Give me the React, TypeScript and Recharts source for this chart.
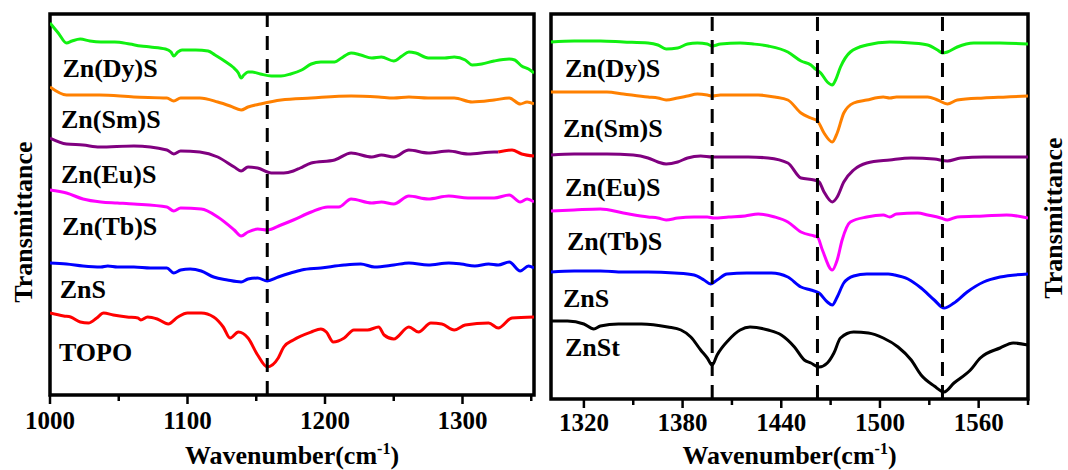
import {
  LineChart,
  Line,
  XAxis,
  YAxis,
  ReferenceLine,
  ReferenceArea,
  ReferenceDot,
} from "recharts";

const SERIF = "Liberation Serif";

// ---- left panel (1000-1352 cm-1), [wavenumber, offset transmittance]
const dyLeft = [
  [1000, 370], [1006, 360], [1012, 350], [1016, 352], [1022, 354], [1029, 352], [1037, 351],
  [1047, 351], [1058, 349], [1066, 347], [1073, 346], [1084, 344], [1088, 341], [1090, 337],
  [1093, 341], [1096, 343], [1106, 343], [1115, 342], [1120, 338], [1128, 331], [1133, 326],
  [1137, 320], [1139, 315], [1141, 318], [1144, 321], [1147, 321], [1153, 319], [1161, 317],
  [1168, 317], [1175, 319], [1183, 323], [1190, 329], [1197, 331], [1207, 331], [1212, 335],
  [1219, 340], [1226, 338], [1234, 335], [1241, 336], [1250, 332], [1256, 337], [1261, 341],
  [1266, 340], [1275, 335], [1287, 335], [1294, 336], [1302, 333], [1307, 328], [1314, 329],
  [1323, 332], [1334, 334], [1338, 333], [1343, 327], [1348, 324], [1352, 320],
];
const smLeft = [
  [1000, 306], [1012, 298], [1022, 298], [1036, 298], [1061, 296], [1085, 295], [1090, 292],
  [1095, 295], [1109, 295], [1122, 291], [1131, 287], [1139, 283], [1144, 286], [1153, 289],
  [1168, 293], [1190, 295], [1219, 297], [1239, 296], [1250, 295], [1261, 296], [1275, 295],
  [1294, 295], [1307, 291], [1323, 293], [1334, 295], [1342, 289], [1347, 291], [1352, 289],
];
const euLeft = [
  [1000, 255], [1012, 249], [1024, 248], [1036, 246], [1061, 247], [1085, 243], [1090, 239],
  [1095, 242], [1109, 241], [1122, 236], [1134, 226], [1139, 222], [1144, 226], [1151, 225],
  [1161, 220], [1170, 220], [1177, 222], [1182, 225], [1190, 230], [1207, 233], [1219, 240],
  [1234, 236], [1241, 238], [1250, 236], [1261, 243], [1275, 240], [1290, 242], [1304, 239],
  [1323, 241], [1326, 241],
];
const euTail = [[1326, 241], [1336, 243], [1343, 239], [1352, 237]];
const tbLeft = [
  [1000, 203], [1012, 200], [1024, 194], [1037, 191], [1049, 190], [1061, 189], [1085, 186],
  [1090, 182], [1095, 185], [1110, 184], [1122, 176], [1134, 163], [1139, 157], [1144, 161],
  [1151, 164], [1158, 163], [1168, 168], [1177, 173], [1190, 181], [1202, 186], [1210, 186],
  [1219, 194], [1234, 190], [1241, 191], [1250, 189], [1261, 197], [1275, 194], [1290, 197],
  [1304, 195], [1323, 195], [1334, 198], [1342, 191], [1347, 194], [1352, 191],
];
const znsLeft = [
  [1000, 130], [1012, 129], [1024, 127], [1037, 126], [1042, 127], [1049, 126], [1061, 126],
  [1073, 125], [1085, 125], [1090, 120], [1095, 123], [1102, 124], [1110, 122], [1119, 116],
  [1129, 113], [1139, 111], [1144, 114], [1151, 115], [1158, 112], [1166, 116], [1175, 120],
  [1183, 123], [1197, 125], [1214, 128], [1226, 129], [1236, 126], [1250, 128], [1261, 130],
  [1275, 128], [1290, 130], [1299, 129], [1309, 127], [1319, 129], [1326, 128], [1334, 131],
  [1342, 122], [1348, 127], [1352, 125],
];
const topo = [
  [1000, 80], [1010, 77], [1015, 76], [1022, 71], [1028, 70], [1034, 75], [1039, 80], [1046, 78],
  [1056, 76], [1064, 75], [1066, 73], [1071, 76], [1078, 74], [1086, 69], [1093, 76], [1100, 80],
  [1110, 80], [1119, 76], [1126, 66], [1131, 55], [1137, 61], [1144, 55], [1151, 38], [1158, 26],
  [1166, 35], [1170, 46], [1177, 53], [1190, 61], [1197, 64], [1201, 61], [1206, 51], [1214, 55],
  [1221, 63], [1231, 63], [1239, 66], [1243, 58], [1250, 54], [1261, 66], [1268, 61], [1277, 70],
  [1285, 69], [1294, 63], [1302, 68], [1319, 70], [1326, 65], [1336, 75], [1352, 76],
];

// ---- right panel (1300-1590 cm-1)
const dyRight = [
  [1300, 356], [1314, 357], [1330, 357], [1344, 356], [1359, 355], [1365, 353], [1370, 349],
  [1377, 350], [1383, 354], [1389, 355], [1395, 354], [1398, 352], [1403, 354], [1415, 355],
  [1423, 354], [1432, 352], [1444, 346], [1452, 337], [1458, 333], [1460, 330], [1464, 325],
  [1468, 316], [1471, 313], [1473, 318], [1476, 331], [1482, 346], [1492, 353], [1506, 356],
  [1519, 355], [1529, 353], [1535, 348], [1538, 345], [1541, 346], [1547, 351], [1557, 355],
  [1573, 355], [1590, 354],
];
const smRight = [
  [1300, 306], [1314, 306], [1334, 306], [1344, 304], [1359, 301], [1365, 300], [1370, 298],
  [1377, 300], [1383, 302], [1389, 304], [1395, 303], [1398, 302], [1403, 303], [1415, 303],
  [1426, 303], [1436, 301], [1444, 298], [1452, 285], [1458, 280], [1462, 277], [1466, 265],
  [1471, 256], [1474, 265], [1478, 285], [1484, 295], [1492, 298], [1502, 301], [1506, 300],
  [1510, 301], [1529, 301], [1535, 298], [1541, 294], [1547, 298], [1563, 300], [1577, 301],
  [1590, 302],
];
const euRight = [
  [1300, 243], [1314, 244], [1334, 244], [1350, 243], [1359, 240], [1365, 236], [1370, 234],
  [1377, 236], [1383, 240], [1391, 242], [1398, 241], [1408, 241], [1420, 241], [1432, 240],
  [1444, 235], [1452, 220], [1460, 218], [1463, 216], [1466, 206], [1471, 196], [1474, 201],
  [1478, 216], [1484, 228], [1492, 235], [1506, 238], [1519, 240], [1533, 239], [1541, 237],
  [1549, 240], [1563, 241], [1590, 241],
];
const tbRight = [
  [1300, 187], [1314, 188], [1330, 189], [1344, 185], [1359, 181], [1365, 180], [1370, 178],
  [1377, 180], [1387, 181], [1395, 181], [1399, 180], [1408, 181], [1418, 182], [1426, 184],
  [1436, 181], [1444, 176], [1452, 166], [1460, 162], [1462, 161], [1465, 148], [1471, 128],
  [1474, 138], [1477, 158], [1482, 176], [1492, 181], [1502, 183], [1506, 181], [1510, 184],
  [1523, 185], [1529, 183], [1537, 180], [1541, 178], [1547, 181], [1563, 182], [1577, 183],
  [1590, 180],
];
const znsRight = [
  [1300, 126], [1314, 127], [1330, 127], [1344, 126], [1359, 126], [1375, 125], [1387, 123],
  [1393, 118], [1397, 114], [1401, 118], [1407, 124], [1419, 125], [1434, 125], [1444, 121],
  [1452, 111], [1458, 108], [1463, 105], [1468, 96], [1471, 93], [1474, 101], [1478, 115],
  [1484, 122], [1492, 124], [1505, 124], [1509, 123], [1517, 119], [1525, 110], [1533, 98],
  [1539, 90], [1545, 95], [1553, 106], [1563, 116], [1573, 121], [1590, 124],
];
const znstRight = [
  [1300, 77], [1310, 77], [1320, 74], [1326, 69], [1330, 72], [1341, 74], [1355, 74], [1371, 71],
  [1379, 68], [1385, 61], [1391, 48], [1395, 40], [1398, 33], [1401, 43], [1408, 58], [1415, 68],
  [1421, 71], [1432, 68], [1440, 63], [1448, 51], [1454, 38], [1458, 35], [1463, 31], [1468, 35],
  [1472, 45], [1476, 60], [1484, 66], [1493, 65], [1502, 60], [1511, 51], [1519, 38], [1525, 23],
  [1533, 12], [1539, 6], [1545, 15], [1555, 28], [1561, 40], [1573, 50], [1581, 55], [1590, 53],
];

const leftTicks = [1000, 1050, 1100, 1150, 1200, 1250, 1300, 1350];
const rightTicks = [1320, 1350, 1380, 1410, 1440, 1470, 1500, 1530, 1560, 1590];
const leftMarks = [1158];
const rightMarks = [1398, 1462, 1538];

const leftNames = ["Zn(Dy)S", "Zn(Sm)S", "Zn(Eu)S", "Zn(Tb)S", "ZnS", "TOPO"];
const rightNames = ["Zn(Dy)S", "Zn(Sm)S", "Zn(Eu)S", "Zn(Tb)S", "ZnS", "ZnSt"];
// where each name sits (data coords, text baseline)
const leftNamePos = [[1009, 316], [1008, 265], [1008, 210], [1008.7, 158], [1007, 95], [1006.5, 32]];
const rightNamePos = [[1308.5, 321], [1307.3, 261], [1308.5, 202], [1309.7, 148], [1307.3, 91], [1308.5, 42]];

const leftSeries = [
  { pts: dyLeft, color: "#11F011" },
  { pts: smLeft, color: "#FF8000" },
  { pts: euLeft, color: "#800080" },
  { pts: euTail, color: "#FF0000" },
  { pts: tbLeft, color: "#FF00FF" },
  { pts: znsLeft, color: "#0000FF" },
  { pts: topo, color: "#FF0000" },
];
const rightSeries = [
  { pts: dyRight, color: "#11F011" },
  { pts: smRight, color: "#FF8000" },
  { pts: euRight, color: "#800080" },
  { pts: tbRight, color: "#FF00FF" },
  { pts: znsRight, color: "#0000FF" },
  { pts: znstRight, color: "#000000" },
];

const toPts = (arr: number[][]) => arr.map(([w, v]) => ({ w, v }));

const makeTick = (isMajor: (v: number) => boolean, labelDy: number) => (props: any) => {
  const { x, y, payload } = props;
  const major = isMajor(payload.value);
  return (
    <g>
      <line x1={x} x2={x} y1={y} y2={y + (major ? 9 : 6)} stroke="#000" strokeWidth={2.5} />
      {major && (
        <text
          x={x}
          y={y + labelDy}
          textAnchor="middle"
          fontFamily={SERIF}
          fontWeight="bold"
          fontSize={25}
          style={{ fontFamily: SERIF }}
          fill="#000"
        >
          {payload.value}
        </text>
      )}
    </g>
  );
};

const xTitle = (dy: number) => (props: any) => {
  const { x, y, width } = props.viewBox;
  return (
    <text
      x={x + width / 2}
      y={y + dy}
      textAnchor="middle"
      fontFamily={SERIF}
      fontWeight="bold"
      fontSize={26}
      style={{ fontFamily: SERIF }}
      fill="#000"
    >
      Wavenumber(cm<tspan dy={-10} fontSize={16}>-1</tspan>
      <tspan dy={10}>)</tspan>
    </text>
  );
};

const yTitle = (dx: number, dy: number) => (props: any) => {
  const { x, y, height } = props.viewBox;
  const cx = x + dx;
  const cy = y + height / 2 + dy;
  return (
    <text
      x={cx}
      y={cy}
      transform={`rotate(-90 ${cx} ${cy})`}
      textAnchor="middle"
      fontFamily={SERIF}
      fontWeight="bold"
      fontSize={26}
      style={{ fontFamily: SERIF }}
      fill="#000"
    >
      Transmittance
    </text>
  );
};

const nameLabel = (name: string) => (props: any) => {
  const { x, y } = props.viewBox;
  return (
    <text x={x} y={y} fontFamily={SERIF} fontWeight="bold" fontSize={26} style={{ fontFamily: SERIF }} fill="#000">
      {name}
    </text>
  );
};

function Panel(props: {
  width: number;
  margin: any;
  xDomain: number[];
  yDomain: number[];
  axisHeight: number;
  ticks: number[];
  isMajor: (v: number) => boolean;
  labelDy: number;
  titleDy: number;
  series: { pts: number[][]; color: string }[];
  marks: number[];
  names: string[];
  namePos: number[][];
  yOrient: "left" | "right";
  yLabel: (p: any) => any;
}) {
  return (
    <LineChart width={props.width} height={470} margin={props.margin}>
      <XAxis
        type="number"
        dataKey="w"
        domain={props.xDomain}
        allowDataOverflow
        ticks={props.ticks}
        interval={0}
        tick={makeTick(props.isMajor, props.labelDy)}
        tickLine={false}
        axisLine={false}
        tickSize={0}
        tickMargin={0}
        height={props.axisHeight}
        label={xTitle(props.titleDy)}
      />
      <YAxis
        type="number"
        domain={props.yDomain}
        allowDataOverflow
        orientation={props.yOrient}
        width={1}
        tick={false}
        tickLine={false}
        axisLine={false}
        label={props.yLabel}
      />
      {props.series.map((s, i) => (
        <Line
          key={i}
          data={toPts(s.pts)}
          dataKey="v"
          type="monotone"
          stroke={s.color}
          strokeWidth={3}
          dot={false}
          activeDot={false}
          isAnimationActive={false}
        />
      ))}
      {props.marks.map((m) => (
        <ReferenceLine key={m} x={m} stroke="#000" strokeWidth={3} strokeDasharray="14 9" />
      ))}
      <ReferenceArea
        x1={props.xDomain[0]}
        x2={props.xDomain[1]}
        y1={props.yDomain[0]}
        y2={props.yDomain[1]}
        fill="none"
        stroke="#000"
        strokeWidth={3.5}
      />
      {props.names.map((n, i) => (
        <ReferenceDot
          key={n + i}
          x={props.namePos[i][0]}
          y={props.namePos[i][1]}
          r={0}
          fill="none"
          stroke="none"
          label={nameLabel(n)}
        />
      ))}
    </LineChart>
  );
}

export default function App() {
  return (
    <div style={{ position: "absolute", left: 0, top: 0, width: 1068, height: 470, background: "#fff" }}>
      <div style={{ position: "absolute", left: 0, top: 0 }}>
        <Panel
          width={545}
          margin={{ top: 14, right: 11, bottom: 0, left: 49 }}
          xDomain={[1000, 1352]}
          yDomain={[-2, 379]}
          axisHeight={75}
          ticks={leftTicks}
          isMajor={(v) => v % 100 === 0}
          labelDy={34}
          titleDy={69}
          series={leftSeries}
          marks={leftMarks}
          names={leftNames}
          namePos={leftNamePos}
          yOrient="left"
          yLabel={yTitle(-17, 17.5)}
        />
      </div>
      <div style={{ position: "absolute", left: 541, top: 0 }}>
        <Panel
          width={527}
          margin={{ top: 14, right: 39, bottom: 0, left: 10 }}
          xDomain={[1300, 1590]}
          yDomain={[-1, 384]}
          axisHeight={71}
          ticks={rightTicks}
          isMajor={(v) => (v - 1320) % 60 === 0}
          labelDy={32}
          titleDy={65}
          series={rightSeries}
          marks={rightMarks}
          names={rightNames}
          namePos={rightNamePos}
          yOrient="right"
          yLabel={yTitle(34, 11.5)}
        />
      </div>
    </div>
  );
}
